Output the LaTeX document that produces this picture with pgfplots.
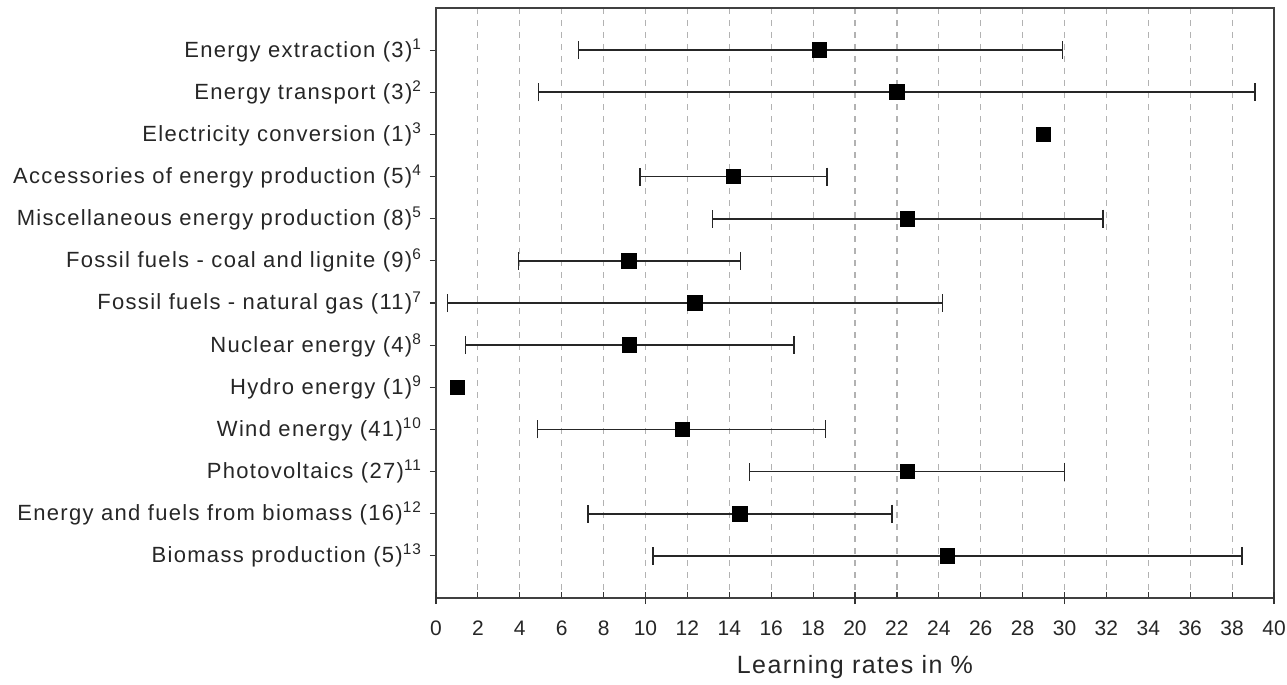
\documentclass[border=0pt]{standalone}
\usepackage{fontspec}
\setmainfont{Liberation Sans}
\newfontfamily\widefont[LetterSpace=6]{Liberation Sans}
\newfontfamily\xlabfont[LetterSpace=5.5]{Liberation Sans}
\usepackage{pgfplots}
\usepackage{pgfplotstable}
\pgfplotsset{compat=1.18}

\pgfplotstableread{
r m lo hi
1 18.3 6.8 29.9
2 22.0 4.9 39.1
4 14.2 9.75 18.65
5 22.5 13.2 31.85
6 9.2 3.93 14.54
7 12.36 0.54 24.17
8 9.23 1.4 17.1
10 11.76 4.85 18.6
11 22.5 14.96 30.0
12 14.5 7.26 21.78
13 24.42 10.37 38.46
}\rangedata

\pgfplotstableread{
r m
3 29.0
9 1.0
}\singledata

\begin{document}
\begin{tikzpicture}
\begin{axis}[
  scale only axis,
  width=419pt, height=295pt,
  xmin=0, xmax=40, ymin=0, ymax=14,
  y dir=reverse,
  axis line style={black!75, line width=0.9pt},
  xtick={0,2,...,40},
  ytick={1,...,13},
  yticklabels={
    Energy extraction (3)\textsuperscript{1},
    Energy transport (3)\textsuperscript{2},
    Electricity conversion (1)\textsuperscript{3},
    Accessories of energy production (5)\textsuperscript{4},
    Miscellaneous energy production (8)\textsuperscript{5},
    Fossil fuels - coal and lignite (9)\textsuperscript{6},
    Fossil fuels - natural gas (11)\textsuperscript{7},
    Nuclear energy (4)\textsuperscript{8},
    Hydro energy (1)\textsuperscript{9},
    Wind energy (41)\textsuperscript{10},
    Photovoltaics (27)\textsuperscript{11},
    Energy and fuels from biomass (16)\textsuperscript{12},
    Biomass production (5)\textsuperscript{13}},
  xtick pos=bottom, ytick pos=left,
  x tick style={black!80, line width=0.6pt},
  y tick style={black!80, line width=0.6pt},
  xtick align=inside, ytick align=outside,
  major tick length=3pt,
  extra x ticks={0,10,20,30,40},
  extra x tick labels={},
  extra x tick style={tick align=center, major tick length=6pt, grid=none},
  xmajorgrids,
  grid style={black!30, dashed, line width=0.6pt},
  xticklabel style={font=\fontsize{10.5}{12}\selectfont, text=black!85, yshift=-8pt},
  yticklabel style={font=\widefont\fontsize{11}{13}\selectfont, text=black!85, xshift=-0.5pt},
  /pgf/number format/assume math mode=true,
  xlabel={Learning rates in \%},
  xlabel style={font=\xlabfont\fontsize{12.5}{14}\selectfont, text=black!85},
]
\addplot[black, line width=0.8pt, only marks, mark=square*, mark size=3.5pt,
  error bars/.cd, x dir=both, x explicit,
  error bar style={line width=0.8pt, black!85},
  error mark options={rotate=90, mark size=4.5pt, line width=0.8pt, black!85}]
  table[x=m, y=r,
        x error plus expr=\thisrow{hi}-\thisrow{m},
        x error minus expr=\thisrow{m}-\thisrow{lo}] {\rangedata};
\addplot[black, only marks, mark=square*, mark size=3.5pt]
  table[x=m, y=r] {\singledata};
\end{axis}
\pgfresetboundingbox
\path[use as bounding box] ([shift={(-218pt,-43pt)}]current axis.south west) rectangle ([shift={(6.5pt,4pt)}]current axis.north east);
\end{tikzpicture}
\end{document}
